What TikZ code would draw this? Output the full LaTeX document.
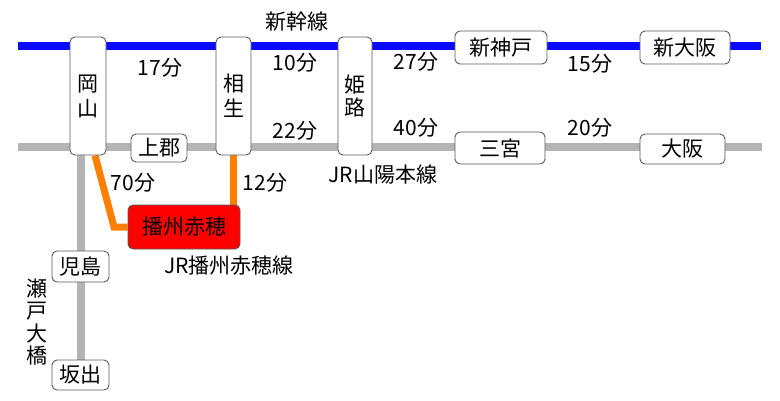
\documentclass[tikz,border=0pt]{standalone}
\usepackage{fontspec}
\newfontfamily\jp{Noto Sans CJK JP}
\usetikzlibrary{backgrounds}
\definecolor{sblue}{HTML}{0A0AFF}
\definecolor{sgray}{HTML}{B4B4B4}
\definecolor{sorange}{HTML}{FF7F00}
\definecolor{sred}{HTML}{FF0000}
\definecolor{sedge}{HTML}{5A5A5A}
\tikzset{
  jpfont/.style={font=\jp\fontsize{21}{25}\selectfont},
  stn/.style={jpfont, draw=sedge, line width=0.9pt, fill=white, rounded corners=5pt,
    inner sep=0pt, align=center},
  lbl/.style={jpfont, inner sep=0pt, align=center},
  shin/.style={draw=sblue, line width=8pt},
  zai/.style={draw=sgray, line width=8pt},
  ako/.style={draw=sorange, line width=7pt},
}
\begin{document}
\begin{tikzpicture}[x=1pt,y=-1pt]
\useasboundingbox (0,0) rectangle (780,400);
% stations
\node[stn, minimum width=36pt, minimum height=118pt] (okayama) at (88,96) {岡\\山};
\node[stn, minimum width=35pt, minimum height=118pt] (aioi) at (233.5,96) {相\\生};
\node[stn, minimum width=34pt, minimum height=118pt] (himeji) at (355,96) {\raisebox{-5pt}{\shortstack{姫\\[1pt]路}}};
\node[stn, minimum width=56pt, minimum height=28pt] (kamigori) at (159,148) {上郡};
\node[stn, minimum width=92pt, minimum height=33pt] (shinkobe) at (501,47.5) {新神戸};
\node[stn, minimum width=90pt, minimum height=33pt] (shinosaka) at (685,47.5) {新大阪};
\node[stn, minimum width=90pt, minimum height=32pt] (sannomiya) at (500,148) {三宮};
\node[stn, minimum width=85pt, minimum height=30pt] (osaka) at (682.5,149) {大阪};
\node[stn, fill=sred, minimum width=112pt, minimum height=44pt] (banshuako) at (184,227) {播州赤穂};
\node[stn, minimum width=57pt, minimum height=31pt] (kojima) at (80.5,266.5) {児島};
\node[stn, minimum width=57pt, minimum height=30pt] (sakaide) at (80.5,375) {坂出};
% line ends
\coordinate (bW) at (18,46);
\coordinate (bE) at (761,46);
\coordinate (gW) at (18,147);
\coordinate (gE) at (762,147);
\coordinate (gv) at (80.5,147);
\coordinate (bend) at (114,227);
\begin{scope}[on background layer]
  \draw[shin] (bW) -- (bE);
  \draw[zai] (gW) -- (gE);
  \draw[zai] (gv) -- (sakaide.north);
  \draw[ako] ([xshift=7pt]okayama.south) -- (bend) -- (banshuako.west);
  \draw[ako] (aioi.south) -- (aioi.south |- banshuako.north);
\end{scope}
% labels
\node[lbl] (lshin) at (297,22) {新幹線};
\node[lbl] (t17) at (160,68) {17分};
\node[lbl] (t10) at (295,63) {10分};
\node[lbl] (t27) at (416,62) {27分};
\node[lbl] (t15) at (590,64) {15分};
\node[lbl] (t22) at (295,131) {22分};
\node[lbl] (t40) at (416,128) {40分};
\node[lbl] (t20) at (590,128) {20分};
\node[lbl] (lsanyo) at (383,175) {JR山陽本線};
\node[lbl] (t70) at (133,183) {70分};
\node[lbl] (t12) at (265,183) {12分};
\node[lbl] (lako) at (229,266) {JR播州赤穂線};
\node[lbl, font=\jp\fontsize{21}{22.5}\selectfont] (lseto) at (37,322) {瀬\\戸\\大\\橋};
\end{tikzpicture}
\end{document}
